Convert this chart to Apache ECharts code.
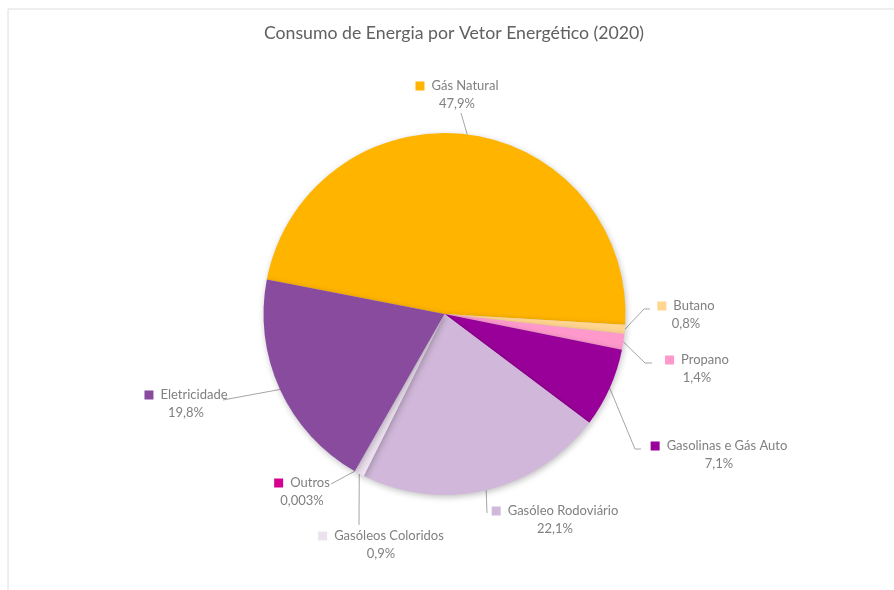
<!DOCTYPE html>
<html>
<head>
<meta charset="utf-8">
<script src="https://cdn.jsdelivr.net/npm/echarts@6/dist/echarts.min.js"></script>
<style>
  html, body { margin: 0; padding: 0; background: #fff; }
  #chart { width: 894px; height: 590px; }
</style>
</head>
<body>
<div id="chart"></div>
<script>
// Energy consumption by energy carrier, 2020 (share of total, %)
const categories = [
  'Gás Natural', 'Butano', 'Propano', 'Gasolinas e Gás Auto',
  'Gasóleo Rodoviário', 'Gasóleos Coloridos', 'Outros', 'Eletricidade'
];
const shares = [47.9, 0.8, 1.4, 7.1, 22.1, 0.9, 0.003, 19.8];
const colors = [
  '#FFB400', '#FFD58F', '#FF99CC', '#990099',
  '#D1B8DA', '#EDE1F0', '#D5008F', '#894B9E'
];

// Where each label block sits (centre, px) and where its leader line ends.
const labelPlacement = [
  { at: [457, 95],  line: [[461, 113]] },
  { at: [686, 315], line: [[644, 309], [650, 309]] },
  { at: [697, 369], line: [[645, 363], [652, 363]] },
  { at: [719, 455], line: [[635, 449], [641, 449]] },
  { at: [555, 520], line: [[487, 513]] },
  { at: [381, 545], line: [[359, 525]] },
  { at: [302, 492], line: [[331, 484]] },
  { at: [186, 404], line: [[223, 400]] }
];

const fmtPct = v => String(v).replace('.', ',') + '%';
const FONT = 'Lato, "Open Sans", sans-serif';

const data = categories.map((name, i) => ({
  name,
  value: shares[i],
  itemStyle: { color: colors[i] },
  label: {
    rich: {
      m: { backgroundColor: colors[i], width: 9, height: 9, verticalAlign: 'middle' },
      n: { fontSize: 13, color: '#808080', fontFamily: FONT, lineHeight: 18, padding: [0, 0, 0, 7] },
      p: { fontSize: 13, color: '#808080', fontFamily: FONT, lineHeight: 18 }
    }
  }
}));

const chart = echarts.init(document.getElementById('chart'), null, { renderer: 'canvas' });

chart.setOption({
  animation: false,
  backgroundColor: '#ffffff',
  title: {
    text: 'Consumo de Energia por Vetor Energético (2020)',
    left: 449,
    textAlign: 'center',
    top: 19,
    textStyle: { fontFamily: FONT, fontSize: 17.7, fontWeight: 'normal', color: '#606060' }
  },
  graphic: [{
    type: 'rect',
    left: 5.5, top: 6.5,
    shape: { width: 900, height: 600 },
    style: { fill: 'none', stroke: '#dedede', lineWidth: 1 },
    silent: true
  }],
  series: [{
    type: 'pie',
    center: [444.5, 314],
    radius: [0, 181],
    startAngle: 169,
    clockwise: true,
    avoidLabelOverlap: false,
    minAngle: 0,
    itemStyle: {
      borderWidth: 0,
      shadowBlur: 6,
      shadowColor: 'rgba(0,0,0,0.25)',
      shadowOffsetX: 1,
      shadowOffsetY: 2
    },
    label: {
      show: true,
      position: 'outside',
      align: 'center',
      formatter: p => '{m|}{n|' + p.name + '}\n{p|' + fmtPct(p.value) + '}'
    },
    labelLine: {
      show: true,
      length: 10,
      length2: 10,
      lineStyle: { color: '#a6a6a6', width: 1 }
    },
    labelLayout: params => {
      const place = labelPlacement[params.dataIndex];
      const start = params.labelLinePoints ? params.labelLinePoints[0] : null;
      const out = {
        x: place.at[0],
        y: place.at[1],
        align: 'center',
        verticalAlign: 'middle'
      };
      if (start) out.labelLinePoints = [start].concat(place.line);
      return out;
    },
    emphasis: { disabled: true },
    data
  }]
});
</script>
</body>
</html>
